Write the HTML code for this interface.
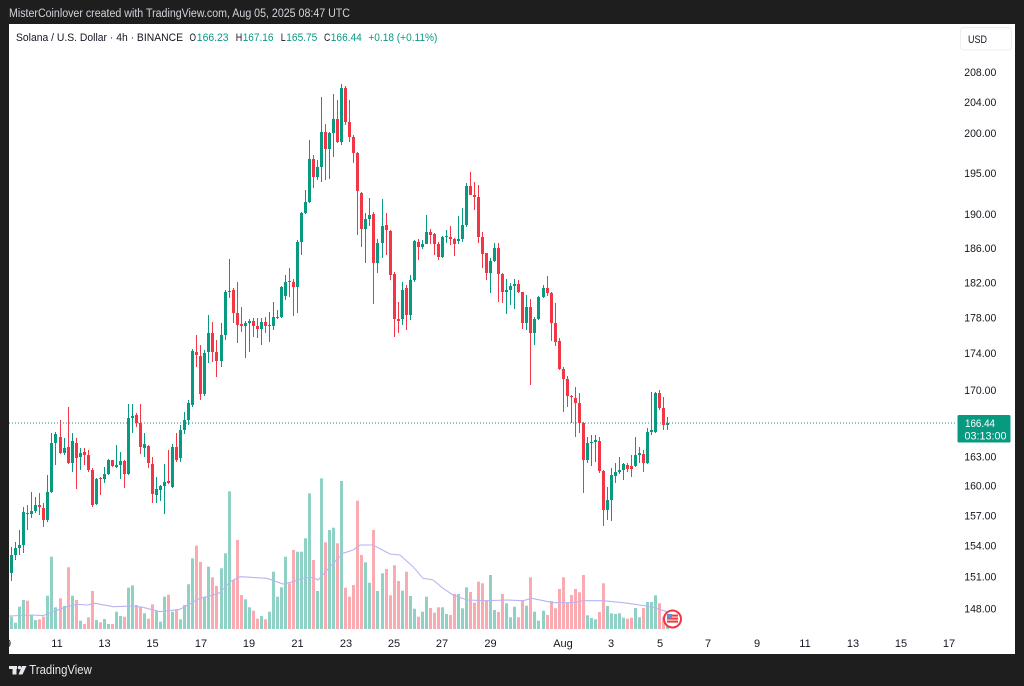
<!DOCTYPE html>
<html><head><meta charset="utf-8"><title>SOLUSD 4h</title>
<style>html,body{margin:0;padding:0;background:#1e1e1e;}svg{display:block;}</style></head>
<body>
<svg id="s" xmlns="http://www.w3.org/2000/svg" width="1024" height="686" viewBox="0 0 1024 686" font-family="'Liberation Sans', sans-serif">
<defs><clipPath id="cp"><rect x="9" y="24" width="946" height="610"/></clipPath></defs>
<rect width="1024" height="686" fill="#1e1e1e"/>
<text x="9" y="17" font-size="11.5" fill="#d1d4dc" textLength="341" lengthAdjust="spacingAndGlyphs">MisterCoinlover created with TradingView.com, Aug 05, 2025 08:47 UTC</text>
<rect x="9" y="24" width="1006" height="630" fill="#ffffff"/>
<g font-size="11">
<text x="16" y="41" fill="#131722" textLength="167" lengthAdjust="spacingAndGlyphs">Solana / U.S. Dollar · 4h · BINANCE</text>
<text x="189.5" y="41" fill="#131722" textLength="6.5" lengthAdjust="spacingAndGlyphs">O</text>
<text x="196.8" y="41" fill="#089981" textLength="31.8" lengthAdjust="spacingAndGlyphs">166.23</text>
<text x="235.7" y="41" fill="#131722" textLength="6.5" lengthAdjust="spacingAndGlyphs">H</text>
<text x="242.7" y="41" fill="#089981" textLength="30.8" lengthAdjust="spacingAndGlyphs">167.16</text>
<text x="280.7" y="41" fill="#131722" textLength="5" lengthAdjust="spacingAndGlyphs">L</text>
<text x="286.3" y="41" fill="#089981" textLength="31" lengthAdjust="spacingAndGlyphs">165.75</text>
<text x="324" y="41" fill="#131722" textLength="6.3" lengthAdjust="spacingAndGlyphs">C</text>
<text x="330.8" y="41" fill="#089981" textLength="31" lengthAdjust="spacingAndGlyphs">166.44</text>
<text x="368.4" y="41" fill="#089981" textLength="69" lengthAdjust="spacingAndGlyphs">+0.18 (+0.11%)</text>
</g>
<rect x="960.5" y="27.5" width="51" height="22.5" rx="3" fill="#ffffff" stroke="#eceef2"/>
<text x="968" y="43" font-size="11" fill="#131722" textLength="19" lengthAdjust="spacingAndGlyphs">USD</text>
<g font-size="11" fill="#131722">
<text x="964.3" y="76" textLength="32" lengthAdjust="spacingAndGlyphs">208.00</text>
<text x="964.3" y="106" textLength="32" lengthAdjust="spacingAndGlyphs">204.00</text>
<text x="964.3" y="137" textLength="32" lengthAdjust="spacingAndGlyphs">200.00</text>
<text x="964.3" y="177" textLength="32" lengthAdjust="spacingAndGlyphs">195.00</text>
<text x="964.3" y="218" textLength="32" lengthAdjust="spacingAndGlyphs">190.00</text>
<text x="964.3" y="252" textLength="32" lengthAdjust="spacingAndGlyphs">186.00</text>
<text x="964.3" y="286.5" textLength="32" lengthAdjust="spacingAndGlyphs">182.00</text>
<text x="964.3" y="321.5" textLength="32" lengthAdjust="spacingAndGlyphs">178.00</text>
<text x="964.3" y="357" textLength="32" lengthAdjust="spacingAndGlyphs">174.00</text>
<text x="964.3" y="394" textLength="32" lengthAdjust="spacingAndGlyphs">170.00</text>
<text x="964.3" y="460.5" textLength="32" lengthAdjust="spacingAndGlyphs">163.00</text>
<text x="964.3" y="489.5" textLength="32" lengthAdjust="spacingAndGlyphs">160.00</text>
<text x="964.3" y="519.5" textLength="32" lengthAdjust="spacingAndGlyphs">157.00</text>
<text x="964.3" y="549.5" textLength="32" lengthAdjust="spacingAndGlyphs">154.00</text>
<text x="964.3" y="580.5" textLength="32" lengthAdjust="spacingAndGlyphs">151.00</text>
<text x="964.3" y="612.5" textLength="32" lengthAdjust="spacingAndGlyphs">148.00</text>
</g>
<g id="chart" clip-path="url(#cp)">
<g id="vol"></g>
<path id="ma" fill="none" stroke="#b9b3f2" stroke-width="1.1" d="M9,616 L33,615 L43,615.7 L53,611.7 L67,606.7 L77,604.3 L88,605 L95,603.3 L113,606.7 L133,606 L143,607.3 L160,611.7 L180,609.3 L200,598.3 L213,595 L220,592.7 L230,581.7 L240,576.7 L267,578.3 L283,584 L293,581.7 L303,578.3 L313,577.3 L318,580 L330,566.7 L343,553.3 L353,550 L360,545 L373,545 L390,554 L400,555 L413,566.7 L423,578.3 L433,580 L443,588.3 L453,595 L467,600 L487,600.7 L507,600 L523,600.7 L532,598.3 L553,602.7 L573,602.7 L583,600.7 L603,600.7 L623,602.7 L640,605 L653,607.3 L667,611.7"/>
<g id="cdl"></g>
</g>
<line x1="9" y1="423" x2="957" y2="423" stroke="#089981" stroke-width="1" stroke-dasharray="1,2"/>
<rect x="957.5" y="415" width="53" height="27.5" rx="1.5" fill="#089981"/>
<text x="965" y="427" font-size="11" fill="#ffffff" textLength="30" lengthAdjust="spacingAndGlyphs">166.44</text>
<text x="964.5" y="439.5" font-size="11" fill="#ffffff" textLength="42" lengthAdjust="spacingAndGlyphs">03:13:00</text>
<g>
<circle cx="672.5" cy="619" r="8.5" fill="#ffffff" stroke="#f23645" stroke-width="2"/>
<rect x="667" y="614" width="11" height="9" fill="#f7a9a7"/>
<rect x="667" y="615" width="11" height="1.3" fill="#f23645"/>
<rect x="667" y="618" width="11" height="1.3" fill="#f23645"/>
<rect x="667" y="621" width="11" height="1.3" fill="#f23645"/>
<rect x="667" y="614" width="5" height="4.5" fill="#5b8fd6"/>
</g>
<g font-size="11" fill="#131722" text-anchor="middle">
<text x="8" y="647">9</text>
<text x="57" y="647">11</text>
<text x="104.5" y="647">13</text>
<text x="152.5" y="647">15</text>
<text x="201" y="647">17</text>
<text x="249" y="647">19</text>
<text x="297.5" y="647">21</text>
<text x="346" y="647">23</text>
<text x="394" y="647">25</text>
<text x="442" y="647">27</text>
<text x="490.5" y="647">29</text>
<text x="563" y="647">Aug</text>
<text x="611" y="647">3</text>
<text x="660" y="647">5</text>
<text x="708" y="647">7</text>
<text x="757" y="647">9</text>
<text x="805" y="647">11</text>
<text x="853" y="647">13</text>
<text x="901" y="647">15</text>
<text x="949" y="647">17</text>
</g>
<rect x="0" y="630" width="9" height="30" fill="#1e1e1e"/>
<g fill="#e6e8ee">
<rect x="9" y="666" width="8" height="3"/>
<rect x="12.5" y="666" width="4" height="8.5"/>
<circle cx="19.5" cy="667.6" r="1.7"/>
<polygon points="22,666 26.5,666 22.5,674.5 18.5,674.5"/>
<text x="29.3" y="674" font-size="13" textLength="62.5" lengthAdjust="spacingAndGlyphs">TradingView</text>
</g>
</svg>
<script>
(function(){
var C=[[566,573,560,576],[573,555,547,581],[555,548,542,560],[548,545,530,555],[545,512,507,553],[513,514,505,530],[514,511,492,518],[511,505,497,513],[505,507,493,515],[508,520,503,527],[520,492,475,522],[492,443,433,493],[443,434,432,465],[437,453,420,454],[453,448,438,455],[447,463,407,464],[463,441,433,472],[443,458,438,489],[457,453,448,470],[452,455,448,465],[455,470,450,472],[470,505,468,507],[504,479,478,505],[478,479,477,495],[479,474,467,483],[474,460,459,475],[460,466,460,467],[467,465,445,468],[465,461,452,479],[461,474,460,488],[474,418,404,475],[418,416,404,433],[415,423,413,427],[423,447,404,454],[448,444,433,457],[446,463,445,468],[464,494,457,503],[495,489,477,503],[490,486,485,501],[486,482,464,514],[481,483,450,484],[487,447,444,488],[447,460,433,462],[458,430,425,462],[430,420,412,434],[420,403,400,425],[405,351,349,407],[352,355,335,367],[356,394,345,400],[394,353,350,396],[352,333,315,363],[333,352,322,362],[352,361,340,377],[361,335,323,367],[335,292,290,340],[292,291,259,298],[290,313,288,323],[313,325,282,343],[324,326,307,332],[326,323,321,358],[323,321,319,352],[321,326,318,337],[326,329,318,338],[329,322,318,345],[322,326,317,333],[326,325,312,342],[326,317,302,330],[318,317,310,319],[317,287,286,318],[296,282,275,300],[281,282,268,297],[282,287,279,316],[287,242,240,313],[242,213,212,255],[213,202,190,214],[202,159,140,203],[159,177,155,188],[177,167,160,180],[167,132,97,182],[132,149,124,180],[149,133,132,179],[133,119,94,157],[119,142,100,143],[142,88,84,145],[88,122,86,125],[122,137,100,142],[137,153,135,163],[153,191,152,235],[193,229,192,247],[229,219,213,263],[219,215,198,226],[214,263,212,304],[263,243,239,273],[243,226,199,258],[225,230,213,255],[231,275,230,280],[274,319,272,337],[319,321,302,333],[319,290,282,325],[288,315,285,330],[315,280,275,320],[280,241,240,282],[242,247,239,260],[247,244,240,249],[244,232,215,244],[232,235,229,244],[234,244,233,255],[244,257,242,260],[257,237,236,258],[237,236,230,243],[237,239,226,245],[239,244,238,256],[241,239,216,244],[239,225,208,242],[225,186,183,227],[186,195,172,195],[195,197,182,210],[197,237,185,243],[237,254,232,268],[253,273,253,280],[273,261,258,293],[261,248,243,262],[248,274,243,302],[274,292,273,303],[292,290,279,314],[290,286,283,305],[286,284,279,309],[284,292,280,293],[292,323,292,329],[323,307,295,330],[307,333,299,385],[333,319,317,345],[319,297,296,320],[297,288,285,298],[288,293,276,296],[293,323,292,341],[323,342,303,346],[341,369,338,370],[369,379,367,412],[379,396,376,407],[396,397,395,423],[398,403,387,437],[403,423,393,433],[423,460,422,493],[460,443,437,463],[443,442,435,466],[442,440,435,462],[441,471,437,473],[471,510,470,526],[510,500,487,520],[500,475,468,521],[476,472,463,483],[472,470,457,474],[470,464,463,480],[465,469,463,472],[466,469,455,477],[466,455,437,467],[455,453,447,463],[454,463,450,472],[463,432,428,464],[432,430,392,435],[432,393,392,433],[393,408,390,410],[408,425,397,430],[425,423,417,430]];
var V=[619,616.7,622.7,606.7,600,600.7,615,620,619.3,616.7,595.7,556.7,607.3,598.3,606,567.3,595.7,600,620.7,624,617.3,591,620,622.3,619,624,624,611.7,616,616.7,587.7,585.3,605,606.7,613.3,618.7,604.3,611,621.7,596.7,594.7,611.7,609.3,619.3,605,584.3,558.3,545.7,562,597.3,566.7,577.3,586,568.3,553.3,491.3,580,540,595,599.3,607.3,610.7,618.7,616,619.3,611.7,571.7,596.7,587.3,556.7,583.3,550,551.7,551.7,538.3,493.3,560,591,478.3,542.3,530,527.7,543.3,481,587.7,596.7,585,500.7,555,562.3,582.7,530,591,573.3,569,595.3,565.3,581,590.7,571.7,596,608.7,616.7,611.7,596.7,608,612.7,607.3,607.3,614,615,594,594,608.3,587.3,592,602.7,581.7,583.3,600.7,575,610,612,594,603.3,617.3,606.7,617.3,600,605.7,577.3,611.7,620.7,610.7,615,601,608.3,589,577.3,602.7,595,589,592.3,575,615.3,618,619.3,612,583.3,606,613.3,614,613.3,617.7,618.7,617.7,608,617.3,608,602,602,595.3,603.3,616.7,623.3];
var NS="http://www.w3.org/2000/svg";
var gv=document.getElementById("vol"),gc=document.getElementById("cdl");
function R(g,x,y,w,h,f,op){var r=document.createElementNS(NS,"rect");r.setAttribute("x",x);r.setAttribute("y",y);r.setAttribute("width",w);r.setAttribute("height",h);r.setAttribute("fill",f);if(op)r.setAttribute("fill-opacity",op);g.appendChild(r);}
for(var k=0;k<C.length;k++){
 var i=k-1,x=Math.round(11.2+4.025*i),d=C[k],o=d[0],c=d[1],hi=d[2],lo=d[3];
 var up=c<o,col=up?"#089981":"#f23645";
 var vt=V[k];
 R(gv,x-1,vt,3,629-vt,up?"#089981":"#f23645",up?"0.45":"0.42");
 R(gc,x,hi,1,Math.max(1,lo-hi),col);
 var t=Math.min(o,c),b=Math.max(o,c);
 R(gc,x-1,t,3,Math.max(1,b-t),col);
}
})();
</script>
</body></html>
